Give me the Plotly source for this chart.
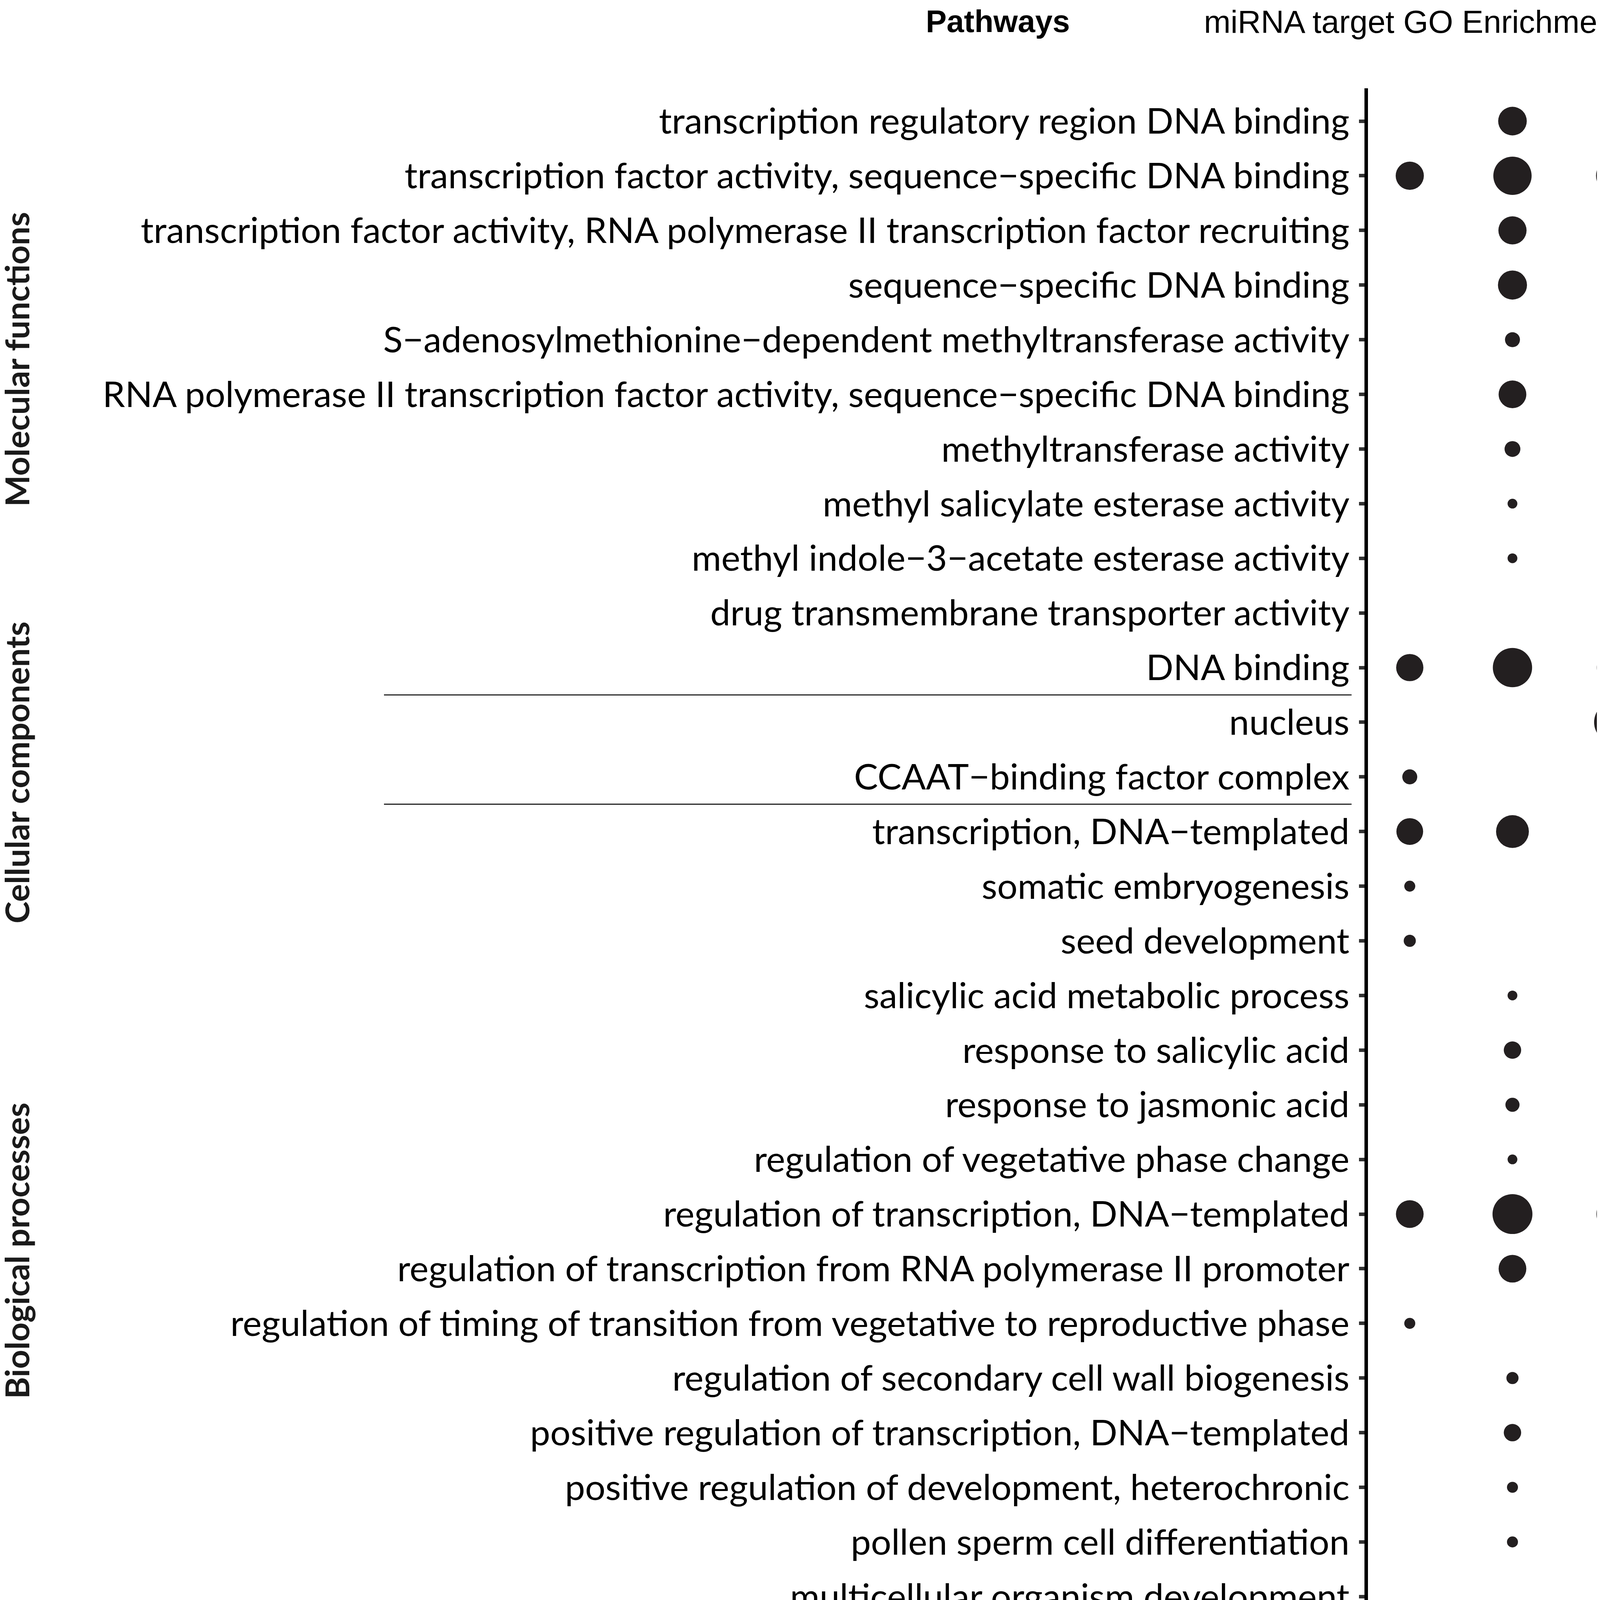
import math
import plotly.graph_objects as go

S = 1.0  # global scale of the drawing (1.0 = full size)
W, H = round(4498 * S), round(4751 * S)

time_points = ["3 h", "6 h", "2 d"]

terms = [
    "transcription regulatory region DNA binding",
    "transcription factor activity, sequence\u2212specific DNA binding",
    "transcription factor activity, RNA polymerase II transcription factor recruiting",
    "sequence\u2212specific DNA binding",
    "S\u2212adenosylmethionine\u2212dependent methyltransferase activity",
    "RNA polymerase II transcription factor activity, sequence\u2212specific DNA binding",
    "methyltransferase activity",
    "methyl salicylate esterase activity",
    "methyl indole\u22123\u2212acetate esterase activity",
    "drug transmembrane transporter activity",
    "DNA binding",
    "nucleus",
    "CCAAT\u2212binding factor complex",
    "transcription, DNA\u2212templated",
    "somatic embryogenesis",
    "seed development",
    "salicylic acid metabolic process",
    "response to salicylic acid",
    "response to jasmonic acid",
    "regulation of vegetative phase change",
    "regulation of transcription, DNA\u2212templated",
    "regulation of transcription from RNA polymerase II promoter",
    "regulation of timing of transition from vegetative to reproductive phase",
    "regulation of secondary cell wall biogenesis",
    "positive regulation of transcription, DNA\u2212templated",
    "positive regulation of development, heterochronic",
    "pollen sperm cell differentiation",
    "multicellular organism development",
    "methylation",
    "cell differentiation",
    "anther development",
]

# number of target genes per term (None = not enriched at that time point)
genes_3h = [None, 28, None, None, None, None, None, None, None, None, 26,
            None, 6, 25, 2, 3, None, None, None, None, 27,
            None, 2, None, None, None, None, None, None, None, 3]
genes_6h = [29, 54, 28, 30, 6, 27, 7, 1, 1, None, 57,
            None, None, 39, None, None, 1, 9, 5, 1, 59,
            27, None, 3, 9, 2, 2, None, 6, 32, 4]
genes_2d = [28, 54, 25, 30, None, 25, None, 1, 1, 2, 50,
            66, None, 37, None, None, 1, 8, 6, 1, 52,
            25, None, 3, 8, None, None, 9, None, 29, 3]

group_names = ["Molecular functions", "Cellular components", "Biological processes"]
legend_values = [20, 50]
legend_labels = ["20", "50"]

DOT = "#231f20"


def dot_size(n):
    # area grows linearly with the gene count (ggplot-like size scale)
    return S * math.sqrt(455.6 + 169.4 * n)


def px_x(x):
    return x / 4498


def px_y(y):
    return 1 - y / 4751


def fs(v):
    return v * S


def fi(v):
    return int(round(v * S))


fig = go.Figure()

for tp, vals in zip(time_points, [genes_3h, genes_6h, genes_2d]):
    ys = [t for t, v in zip(terms, vals) if v is not None]
    vs = [v for v in vals if v is not None]
    fig.add_trace(go.Scatter(
        x=[tp] * len(ys), y=ys, mode="markers", opacity=1,
        marker=dict(size=[dot_size(v) for v in vs], color=DOT, opacity=1, line=dict(width=0)),
        customdata=vs, hovertemplate="%{y}<br>%{x}: %{customdata}<extra></extra>",
        showlegend=False, xaxis="x", yaxis="y",
    ))

# size legend drawn on its own small axes
fig.add_trace(go.Scatter(
    x=[0, 0], y=[0, 1], mode="markers", opacity=1,
    marker=dict(size=[dot_size(v) for v in legend_values], color="black", opacity=1,
                line=dict(width=0)),
    showlegend=False, hoverinfo="skip", xaxis="x2", yaxis="y2",
))

label_font = "Lato"
pl, pr, pt, pb = 3494, 4232, 218, 4581
row_top, row_step = 302, 139.9

fig.update_layout(
    width=W, height=H,
    paper_bgcolor="white", plot_bgcolor="white",
    margin=dict(l=0, r=0, t=0, b=0, pad=0, autoexpand=False),
    xaxis=dict(
        type="category", categoryorder="array", categoryarray=time_points,
        range=[-0.407, 2.4], domain=[px_x(pl), px_x(pr)], anchor="y",
        showline=True, linewidth=fs(8), linecolor="black",
        ticks="", showgrid=False, zeroline=False,
        tickfont=dict(family="Liberation Sans", size=fs(64), color="#1a1a1a", weight="bold"),
        ticklabelshift=fi(15), ticklabelstandoff=fi(-22),
    ),
    yaxis=dict(
        type="category", categoryorder="array", categoryarray=terms,
        range=[(pb - row_top) / row_step, -(row_top - pt) / row_step],
        domain=[px_y(pb), px_y(pt)], anchor="x",
        showline=True, linewidth=fs(9), linecolor="black",
        ticks="outside", ticklen=fs(14), tickwidth=fs(9), tickcolor="#333333",
        showgrid=False, zeroline=False,
        tickfont=dict(family=label_font, size=fs(92), color="black"),
        ticklabelstandoff=fi(6),
    ),
    xaxis2=dict(domain=[px_x(268), px_x(368)], range=[-1, 1], visible=False,
                anchor="y2", fixedrange=True),
    yaxis2=dict(domain=[px_y(4562), px_y(4354)], range=[1.5, -0.5], visible=False,
                anchor="x2", fixedrange=True),
)

ann = []
# titles at top
ann.append(dict(text="<b>Pathways</b>", x=px_x(2546), y=px_y(0), xref="paper", yref="paper",
                xanchor="center", yanchor="top", showarrow=False,
                font=dict(family="Liberation Sans", size=fs(80), color="black")))
ann.append(dict(text="miRNA target GO Enrichment analysis", x=px_x(4470), y=px_y(0),
                xref="paper", yref="paper", xanchor="right", yanchor="top", showarrow=False,
                font=dict(family="Liberation Sans", size=fs(82), color="black")))
# x-axis title
ann.append(dict(text="<b>Time Points</b>", x=px_x(3850), y=px_y(4751), xref="paper", yref="paper",
                xanchor="center", yanchor="bottom", showarrow=False,
                font=dict(family="Liberation Sans", size=fs(64), color="#1a1a1a")))
# group labels (rotated)
for name, cy in zip(group_names, [912, 1970, 3194]):
    ann.append(dict(text="<b>" + name + "</b>", x=px_x(34), y=px_y(cy), xref="paper", yref="paper",
                    xanchor="center", yanchor="middle", textangle=-90, showarrow=False,
                    font=dict(family=label_font, size=fs(85), color="#1a1a1a")))
# size legend texts
ann.append(dict(text="target genes", x=px_x(100), y=px_y(4252), xref="paper", yref="paper",
                xanchor="left", yanchor="middle", showarrow=False,
                font=dict(family=label_font, size=fs(92), color="black")))
for i, lab in enumerate(legend_labels):
    ann.append(dict(text=lab, x=px_x(405), y=i, xref="paper", yref="y2",
                    xanchor="left", yanchor="middle", showarrow=False,
                    font=dict(family=label_font, size=fs(92), color="black")))
fig.update_layout(annotations=ann)

# separators between GO categories
for yv in [10.5, 12.5]:
    fig.add_shape(type="line", xref="paper", yref="y", x0=px_x(975), x1=px_x(3452),
                  y0=yv, y1=yv, line=dict(color="black", width=fs(2.5)))

fig.write_html("out.html")
